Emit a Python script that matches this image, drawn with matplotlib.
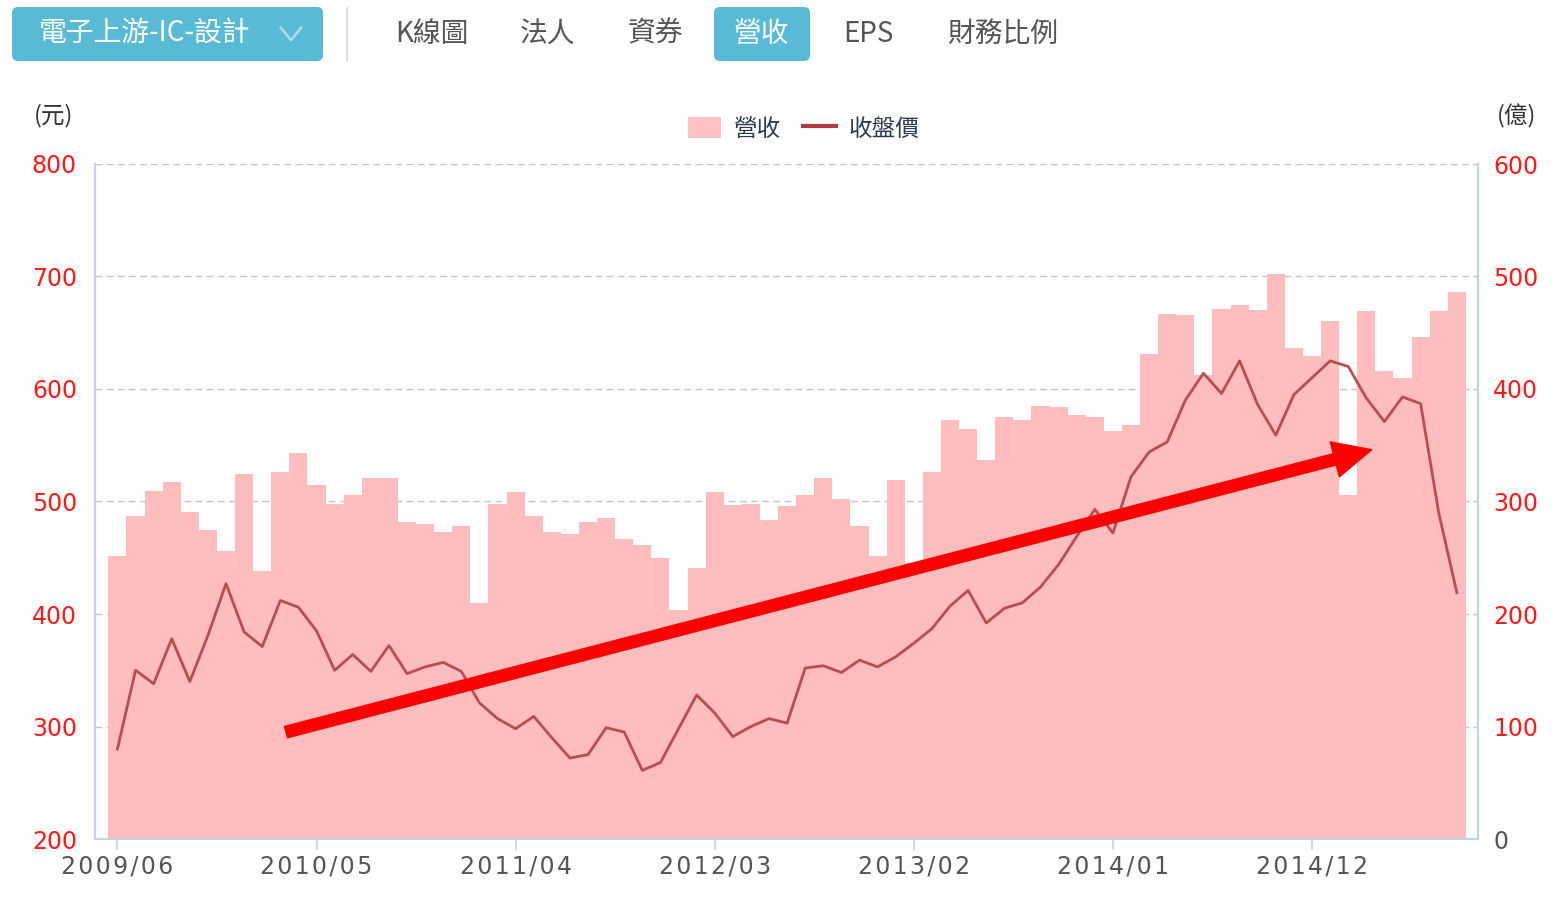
import matplotlib
matplotlib.use("Agg")
import matplotlib.pyplot as plt
import numpy as np
from matplotlib.patches import FancyBboxPatch, FancyArrowPatch, Patch
from matplotlib.lines import Line2D
from matplotlib.transforms import IdentityTransform

plt.rcParams["font.family"] = ["Noto Sans CJK TC", "DejaVu Sans"]

# monthly data, 2009/06 .. 2015/08
months = [f"{2009 + (5 + k) // 12}/{(5 + k) % 12 + 1:02d}" for k in range(75)]

revenue = [252, 287, 309, 317, 291, 275, 256, 324, 238, 326,
           343, 315, 298, 306, 321, 321, 282, 280, 273, 278,
           210, 298, 308, 287, 273, 271, 282, 285, 267, 261,
           250, 204, 241, 308, 297, 298, 284, 296, 306, 321,
           302, 278, 252, 319, 245, 326, 372, 364, 337, 375,
           372, 385, 384, 377, 375, 363, 368, 431, 467, 466,
           412, 471, 475, 470, 502, 436, 429, 460, 306, 469,
           416, 410, 446, 469, 486]

close_price = [280, 350, 338, 378, 340, 381, 427, 384, 371, 412,
               406, 385, 350, 364, 349, 372, 347, 353, 357, 349,
               321, 307, 298, 309, 290, 272, 275, 299, 295, 261,
               268, 298, 328, 312, 291, 300, 307, 303, 352, 354,
               348, 359, 353, 362, 374, 387, 407, 421, 392, 405,
               410, 424, 444, 469, 493, 472, 522, 544, 553, 590,
               614, 596, 625, 586, 559, 595, 610, 625, 620, 592,
               571, 593, 587, 490, 419]

tick_labels = ["2009/06", "2010/05", "2011/04", "2012/03",
               "2013/02", "2014/01", "2014/12"]
price_ticks = [200, 300, 400, 500, 600, 700, 800]
revenue_ticks = [0, 100, 200, 300, 400, 500, 600]

tabs = ["K線圖", "法人", "資券", "營收", "EPS", "財務比例"]
tab_x = [432, 548, 655, 762, 868, 1003]

W, H = 1560, 897
BAR_COLOR = "#FFBDBD"
LINE_COLOR = "#B5474B"
AXIS_COLOR = "#C5D3E3"
RED = "#FF1A1A"

fig = plt.figure(figsize=(W / 100, H / 100), dpi=100)


def fx(x):
    return x / W


def fy(y):
    return 1 - y / H


# axes box in pixels: x 95..1478, y 164..839
ax2 = fig.add_axes([fx(95), fy(839), fx(1478) - fx(95), fy(164) - fy(839)])
ax = ax2.twinx()
ax.set_zorder(ax2.get_zorder() + 1)
ax.patch.set_visible(False)

x = np.arange(len(months))
ax2.bar(x, revenue, width=1.0, color=BAR_COLOR, linewidth=0)
ax.plot(x, close_price, color=LINE_COLOR, lw=2.0, alpha=0.95)

ax2.set_xlim(-1.24, 75.17)
ax2.set_ylim(0, 600)
ax.set_ylim(200, 800)

# revenue (億) on the right, price (元) on the left
ax2.yaxis.tick_right()
ax.yaxis.tick_left()
ax2.set_yticks(revenue_ticks)
ax.set_yticks(price_ticks)
ax2.set_yticklabels([str(v) for v in revenue_ticks], family="DejaVu Sans", fontsize=17)
ax.set_yticklabels([str(v) for v in price_ticks], family="DejaVu Sans", fontsize=17, color=RED)
for i, lab in enumerate(ax2.get_yticklabels()):
    lab.set_color("#555555" if revenue_ticks[i] == 0 else RED)
ax.tick_params(axis="y", length=0, pad=13)
ax2.tick_params(axis="y", length=0, pad=11)

tick_pos = [months.index(t) for t in tick_labels]
ax2.set_xticks(tick_pos)
spaced = ["\u200a".join(t) for t in tick_labels]
ax2.set_xticklabels(spaced, family="DejaVu Sans", fontsize=17, color="#555555")
ax2.tick_params(axis="x", length=8, width=1.2, color=AXIS_COLOR, pad=3)

ax2.set_axisbelow(True)
ax2.grid(axis="y", color="#C4C4C4", linestyle=(0, (5, 3)), lw=1.0)

for a in (ax, ax2):
    a.spines["top"].set_visible(False)
    for s in ("left", "right", "bottom"):
        a.spines[s].set_color(AXIS_COLOR)
        a.spines[s].set_linewidth(1.5)

# trend arrow
arrow = FancyArrowPatch((9.31, 295), (69.3, 546),
                        arrowstyle="simple,head_length=27.5,head_width=26,tail_width=8.4",
                        mutation_scale=1, color="#FF0000", shrinkA=0, shrinkB=0, zorder=5)
ax.add_patch(arrow)

# axis units
fig.text(fx(54), fy(116), "(元)", fontsize=17, color="#333333", ha="center", va="center")
fig.text(fx(1517), fy(116), "(億)", fontsize=17, color="#333333", ha="center", va="center")

# legend
handles = [Patch(facecolor="#FFC2C2", edgecolor="none"),
           Line2D([], [], color="#B03A3E", lw=3)]
ax.legend(handles, ["營收", "收盤價"], ncol=2, frameon=False, loc="center",
          bbox_to_anchor=(fx(804), fy(129)), bbox_transform=fig.transFigure,
          fontsize=17, handlelength=1.4, handleheight=1.0, handletextpad=0.55,
          columnspacing=0.9, labelcolor="#2E3B4E")

# top toolbar
BTN = "#59BAD6"
fig.add_artist(FancyBboxPatch((12, H - 61), 311, 54, boxstyle="round,pad=0,rounding_size=6",
                              transform=IdentityTransform(), facecolor=BTN, edgecolor="none"))
fig.text(fx(145), fy(34), "電子上游-IC-設計", fontsize=20, color="white", ha="center", va="center")
fig.add_artist(Line2D([281, 291, 301], [H - 28, H - 40, H - 28], transform=IdentityTransform(),
                      color="#A6DCEE", lw=2))
fig.add_artist(Line2D([347, 347], [H - 8, H - 60], transform=IdentityTransform(),
                      color="#D5D5D5", lw=1.2))
fig.add_artist(FancyBboxPatch((714, H - 61), 96, 54, boxstyle="round,pad=0,rounding_size=6",
                              transform=IdentityTransform(), facecolor=BTN, edgecolor="none"))
for name, tx in zip(tabs, tab_x):
    fig.text(fx(tx), fy(34), name, fontsize=20, ha="center", va="center",
             color="white" if name == "營收" else "#555555")

fig.savefig("out.png", dpi=100)
